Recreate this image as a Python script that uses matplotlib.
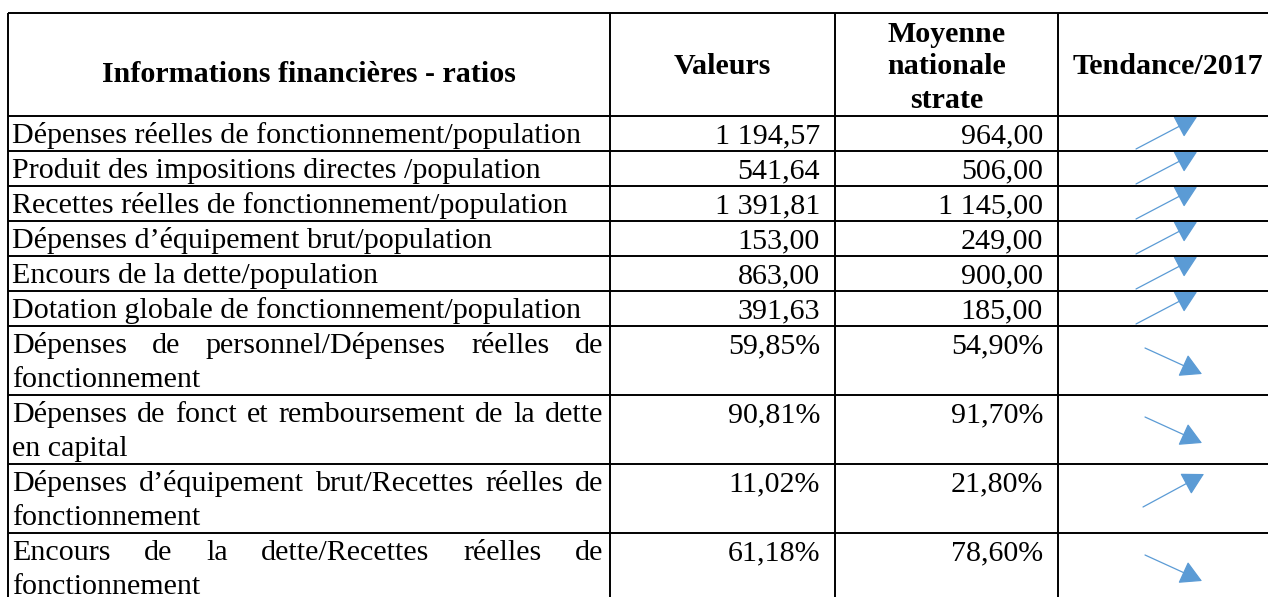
import matplotlib.pyplot as plt
from matplotlib.patches import FancyArrowPatch

plt.rcParams['font.family'] = ['Liberation Serif', 'DejaVu Serif']

# table content
headers = ["Informations financières - ratios", "Valeurs",
           "Moyenne\nnationale\nstrate", "Tendance/2017"]
ratios = [
    "Dépenses réelles de fonctionnement/population",
    "Produit des impositions directes /population",
    "Recettes réelles de fonctionnement/population",
    "Dépenses d’équipement brut/population",
    "Encours de la dette/population",
    "Dotation globale de fonctionnement/population",
    "Dépenses de personnel/Dépenses réelles de\nfonctionnement",
    "Dépenses de fonct et remboursement de la dette\nen capital",
    "Dépenses d’équipement brut/Recettes réelles de\nfonctionnement",
    "Encours de la dette/Recettes réelles de\nfonctionnement",
]
valeurs = ["1 194,57", "541,64", "1 391,81", "153,00", "863,00", "391,63",
           "59,85%", "90,81%", "11,02%", "61,18%"]
moyennes = ["964,00", "506,00", "1 145,00", "249,00", "900,00", "185,00",
            "54,90%", "91,70%", "21,80%", "78,60%"]
tendance = ["up", "up", "up", "up", "up", "up", "down", "down", "up", "down"]

# layout (pixels)
W, H = 1268, 597
FS = 21.6
LINE = 34
col_x = [8, 610, 835, 1058, 1278]
top = 13
header_h = 103

row_y = [top, top + header_h]
for lab in ratios:
    n = lab.count("\n") + 1
    row_y.append(row_y[-1] + (35 if n == 1 else 69))

fig = plt.figure(figsize=(W / 100, H / 100), dpi=100)
ax = fig.add_axes([0, 0, 1, 1])
ax.set_xlim(0, W)
ax.set_ylim(H, 0)
ax.axis('off')
renderer = fig.canvas.get_renderer()

# grid lines
lw = 1.4
for y in row_y:
    ax.plot([col_x[0], W + 5], [y, y], color='black', lw=lw, solid_capstyle='butt')
for x in col_x[:4]:
    ax.plot([x, x], [top, H + 5], color='black', lw=lw, solid_capstyle='butt')

# header
hb = top + header_h / 2 + 10  # baseline of a single-line header
ax.text((col_x[0] + col_x[1]) / 2, hb + 7, headers[0], ha='center', va='baseline',
        fontsize=FS, fontweight='bold')
for j in range(1, 4):
    lines = headers[j].split("\n")
    cx = (col_x[j] + col_x[j + 1]) / 2
    b0 = hb - (len(lines) - 1) / 2 * 33
    for k, ln in enumerate(lines):
        ax.text(cx, b0 + k * 33, ln, ha='center', va='baseline',
                fontsize=FS, fontweight='bold')


def justified(words, x0, x1, y):
    ts = [ax.text(0, y, w, ha='left', va='baseline', fontsize=FS) for w in words]
    widths = [t.get_window_extent(renderer).width for t in ts]
    gap = (x1 - x0 - sum(widths)) / (len(words) - 1)
    x = x0
    for t, w in zip(ts, widths):
        t.set_x(x)
        x += w + gap


left_pad, right_edge = 12, 603
for i, lab in enumerate(ratios):
    y0, y1 = row_y[i + 1], row_y[i + 2]
    base = y0 + 27
    lines = lab.split("\n")
    for k, ln in enumerate(lines):
        if k < len(lines) - 1:
            justified(ln.split(" "), left_pad, right_edge, base + k * LINE)
        else:
            ax.text(left_pad, base + k * LINE, ln, ha='left', va='baseline', fontsize=FS)
    ax.text(col_x[2] - 15, base, valeurs[i], ha='right', va='baseline', fontsize=FS)
    ax.text(col_x[3] - 15, base, moyennes[i], ha='right', va='baseline', fontsize=FS)

    # trend arrow
    single = (y1 - y0) < 50
    if tendance[i] == "up":
        if single:
            p0, p1 = (1136, y1 - 2), (1197, y0 + 1)
        else:
            p0, p1 = (1143, y0 + 43), (1204, y0 + 10)
    else:
        p0, p1 = (1145, y0 + 22), (1202, y0 + 48)
    arr = FancyArrowPatch(p0, p1, arrowstyle='-|>,head_length=1.35,head_width=0.75',
                          mutation_scale=10, color='#5B9BD5', lw=0.9,
                          shrinkA=0, shrinkB=0)
    ax.add_patch(arr)

fig.savefig('out.png', dpi=100)
